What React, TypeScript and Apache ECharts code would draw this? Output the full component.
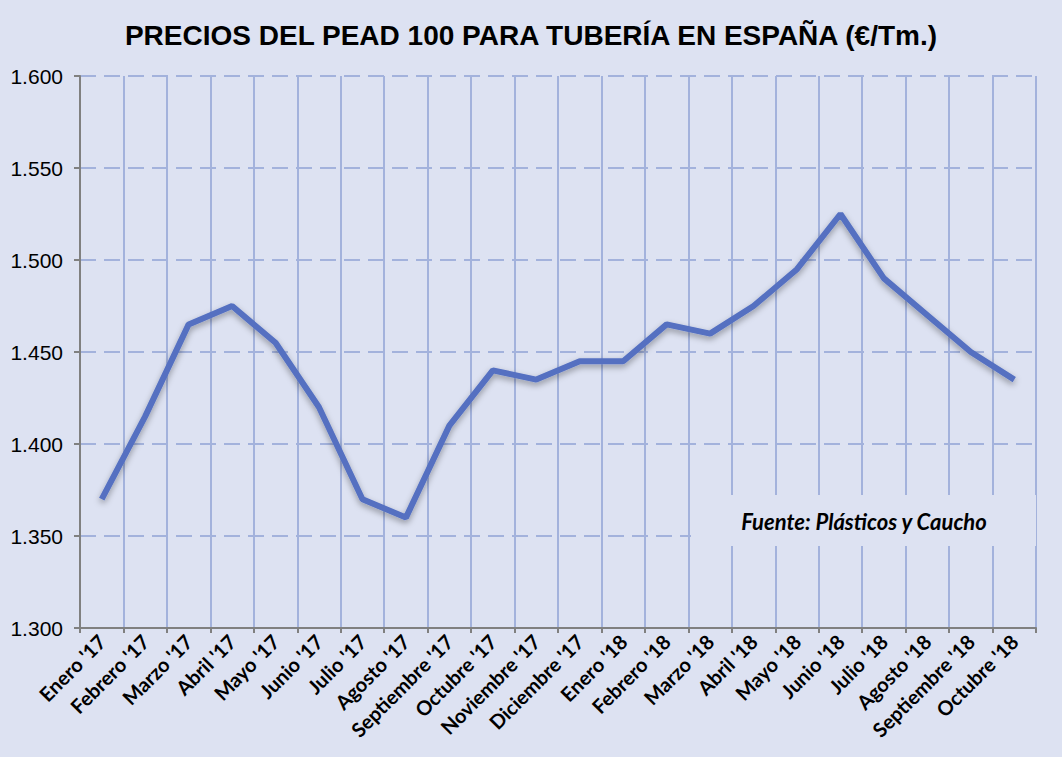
import React, { useEffect, useRef } from "react";
import * as echarts from "echarts";

const categories = [
  "Enero '17", "Febrero '17", "Marzo '17", "Abril '17", "Mayo '17", "Junio '17",
  "Julio '17", "Agosto '17", "Septiembre '17", "Octubre '17", "Noviembre '17", "Diciembre '17",
  "Enero '18", "Febrero '18", "Marzo '18", "Abril '18", "Mayo '18", "Junio '18",
  "Julio '18", "Agosto '18", "Septiembre '18", "Octubre '18",
];
const prices = [
  1370, 1415, 1465, 1475, 1455, 1420, 1370, 1360, 1410, 1440, 1435, 1445,
  1445, 1465, 1460, 1475, 1495, 1525, 1490, 1470, 1450, 1435,
];
const yMin = 1300;
const yMax = 1600;
const yStep = 50;
const title = "PRECIOS DEL PEAD 100 PARA TUBERÍA EN ESPAÑA (€/Tm.)";
const sourceNote = "Fuente: Plásticos y Caucho";

const BG = "#dde2f2";

export default function App() {
  const ref = useRef<HTMLDivElement>(null);
  useEffect(() => {
    document.body.style.margin = "0";
    document.body.style.background = BG;
    const chart = echarts.init(ref.current!, undefined, { renderer: "svg" });
    chart.setOption({
      animation: false,
      backgroundColor: BG,
      title: {
        text: title,
        left: "center",
        top: 16,
        textStyle: {
          fontFamily: "Liberation Sans, Arial, sans-serif",
          fontWeight: "bold",
          fontSize: 28,
          color: "#000",
        },
      },
      grid: { left: 80, right: 26, top: 76, bottom: 129 },
      xAxis: {
        type: "category",
        data: categories,
        boundaryGap: true,
        axisLine: { lineStyle: { color: "#808080", width: 2 } },
        axisTick: { show: true, length: 5, lineStyle: { color: "#808080", width: 2 } },
        splitLine: { show: true, lineStyle: { color: "#a3b2dc", width: 2, type: "solid" } },
        axisLabel: {
          rotate: 45,
          interval: 0,
          margin: 10,
          fontFamily: "Lato, Open Sans, sans-serif",
          fontWeight: "bold",
          fontSize: 20,
          color: "#000",
        },
      },
      yAxis: {
        type: "value",
        min: yMin,
        max: yMax,
        interval: yStep,
        axisLine: { show: true, lineStyle: { color: "#808080", width: 2 } },
        axisTick: { show: true, length: 6, lineStyle: { color: "#808080", width: 2 } },
        splitLine: {
          show: true,
          lineStyle: { color: "#a3b2dc", width: 2, type: [16, 8] },
        },
        axisLabel: {
          margin: 17,
          fontFamily: "Liberation Sans, Arial, sans-serif",
          fontSize: 21,
          color: "#000",
          formatter: (v: number) => (v / 1000).toFixed(3),
        },
      },
      series: [
        {
          type: "line",
          data: prices,
          symbol: "none",
          smooth: false,
          lineStyle: {
            color: "#5470c1",
            width: 6,
            shadowColor: "rgba(0,0,0,0.35)",
            shadowBlur: 6,
            shadowOffsetY: 3,
          },
          z: 5,
        },
      ],
      graphic: [
        {
          type: "rect",
          shape: { x: 691, y: 495, width: 345, height: 51 },
          style: { fill: BG },
          z: 3,
        },
        {
          type: "text",
          x: 864,
          y: 521,
          style: {
            text: sourceNote,
            fontFamily: "Lato, sans-serif",
            fontWeight: "bold",
            fontStyle: "italic",
            fontSize: 22,
            fill: "#000",
            align: "center",
            verticalAlign: "middle",
          },
          z: 4,
        },
      ],
    });
    return () => chart.dispose();
  }, []);
  return <div ref={ref} style={{ width: 1062, height: 757 }} />;
}
